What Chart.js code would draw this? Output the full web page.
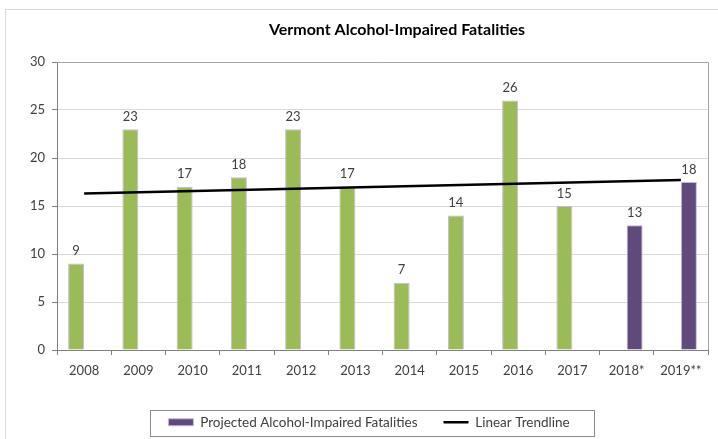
<!DOCTYPE html>
<html>
<head>
<meta charset="utf-8">
<script src="https://cdn.jsdelivr.net/npm/chart.js@4.4.1/dist/chart.umd.min.js"></script>
<style>
  html, body { margin: 0; padding: 0; background: #fff; }
  #wrap { position: relative; width: 718px; height: 439px; overflow: hidden; }
  #frame { position: absolute; left: 5px; top: 9px; width: 730px; height: 450px; border: 1px solid #d9d9d9; }
  #chart { position: absolute; left: 0; top: 0; }
</style>
</head>
<body>
<div id="wrap">
  <div id="frame"></div>
  <canvas id="chart" width="718" height="439"></canvas>
</div>
<script>
var years = ["2008", "2009", "2010", "2011", "2012", "2013", "2014", "2015", "2016", "2017", "2018*", "2019**"];
var actual = [9, 23, 17, 18, 23, 17, 7, 14, 26, 15, null, null];
var projected = [null, null, null, null, null, null, null, null, null, null, 13, 17.5];
var trend = [16.3, null, null, null, null, null, null, null, null, null, null, 17.7];
var yTicks = [0, 5, 10, 15, 20, 25, 30];

var FONT = "Lato, 'Open Sans', sans-serif";
var TEXT = '#404040';

// title, bar value labels, plot border and legend box
var extras = {
    id: 'extras',
    afterDatasetsDraw: function (chart) {
        var ctx = chart.ctx;
        ctx.save();
        ctx.font = '13px ' + FONT;
        ctx.fillStyle = TEXT;
        ctx.textAlign = 'center';
        ctx.textBaseline = 'bottom';
        chart.data.datasets.forEach(function (ds, i) {
            if (ds.type === 'line') return;
            chart.getDatasetMeta(i).data.forEach(function (bar, j) {
                var v = ds.data[j];
                if (v === null) return;
                ctx.fillText(Math.round(v), bar.x, bar.y - 6);
            });
        });
        ctx.restore();
    },
    afterDraw: function (chart) {
        var ctx = chart.ctx;
        var a = chart.chartArea;
        ctx.save();
        ctx.strokeStyle = '#a6a6a6';
        ctx.lineWidth = 1;
        ctx.beginPath();
        ctx.moveTo(a.left, a.top + 0.5);
        ctx.lineTo(a.right + 0.5, a.top + 0.5);
        ctx.lineTo(a.right + 0.5, a.bottom);
        ctx.stroke();

        ctx.font = 'bold 16px ' + FONT;
        ctx.fillStyle = '#000';
        ctx.textAlign = 'center';
        ctx.textBaseline = 'middle';
        ctx.fillText('Vermont Alcohol-Impaired Fatalities', 397, 30);

        var boxes = chart.legend.legendHitBoxes;
        if (boxes && boxes.length) {
            var l = Math.min.apply(null, boxes.map(function (b) { return b.left; }));
            var r = Math.max.apply(null, boxes.map(function (b) { return b.left + b.width; }));
            var t = boxes[0].top;
            var h = boxes[0].height;
            ctx.strokeStyle = '#8c8c8c';
            ctx.strokeRect(Math.round(l - 18) + 0.5, Math.round(t - 6) + 0.5, Math.round(r - l + 43), Math.round(h + 12));
        }
        ctx.restore();
    }
};

new Chart(document.getElementById('chart').getContext('2d'), {
    type: 'bar',
    data: {
        labels: years,
        datasets: [{
            label: 'Alcohol-Impaired Fatalities',
            data: actual,
            backgroundColor: '#9bbb59',
            borderColor: '#c5b8dd',
            borderWidth: 1,
            categoryPercentage: 0.59,
            barPercentage: 1.0,
            order: 2
        }, {
            label: 'Projected Alcohol-Impaired Fatalities',
            data: projected,
            backgroundColor: '#604a7b',
            borderColor: '#c5b8dd',
            borderWidth: 1,
            categoryPercentage: 0.59,
            barPercentage: 1.0,
            pointStyle: 'rect',
            order: 2
        }, {
            type: 'line',
            label: 'Linear Trendline',
            data: trend,
            borderColor: '#000',
            backgroundColor: '#000',
            borderWidth: 2.5,
            pointRadius: 0,
            pointStyle: 'line',
            spanGaps: true,
            order: 1
        }]
    },
    options: {
        responsive: false,
        animation: false,
        layout: { padding: { left: 30, right: 10, top: 62, bottom: 0 } },
        plugins: {
            title: { display: false },
            tooltip: { enabled: false },
            legend: {
                position: 'bottom',
                labels: {
                    filter: function (item) { return item.datasetIndex !== 0; },
                    sort: function (a, b) { return a.datasetIndex - b.datasetIndex; },
                    usePointStyle: true,
                    pointStyleWidth: 25,
                    boxHeight: 7,
                    padding: 26,
                    color: TEXT,
                    font: { family: FONT, size: 13.5 }
                }
            }
        },
        scales: {
            x: {
                afterFit: function (s) { s.height = 39.5; },
                grid: { display: true, drawOnChartArea: false, drawTicks: true, tickLength: 5, color: '#808080' },
                border: { color: '#808080' },
                ticks: { color: TEXT, font: { family: FONT, size: 13 }, padding: 8 }
            },
            y: {
                min: 0,
                max: 30,
                afterFit: function (s) { s.width = 27; },
                afterBuildTicks: function (s) { s.ticks = yTicks.map(function (v) { return { value: v }; }); },
                grid: { color: '#d9d9d9', tickColor: '#808080', tickLength: 5 },
                border: { color: '#808080' },
                ticks: { color: TEXT, font: { family: FONT, size: 13 }, padding: 7 }
            }
        }
    },
    plugins: [extras]
});
</script>
</body>
</html>
